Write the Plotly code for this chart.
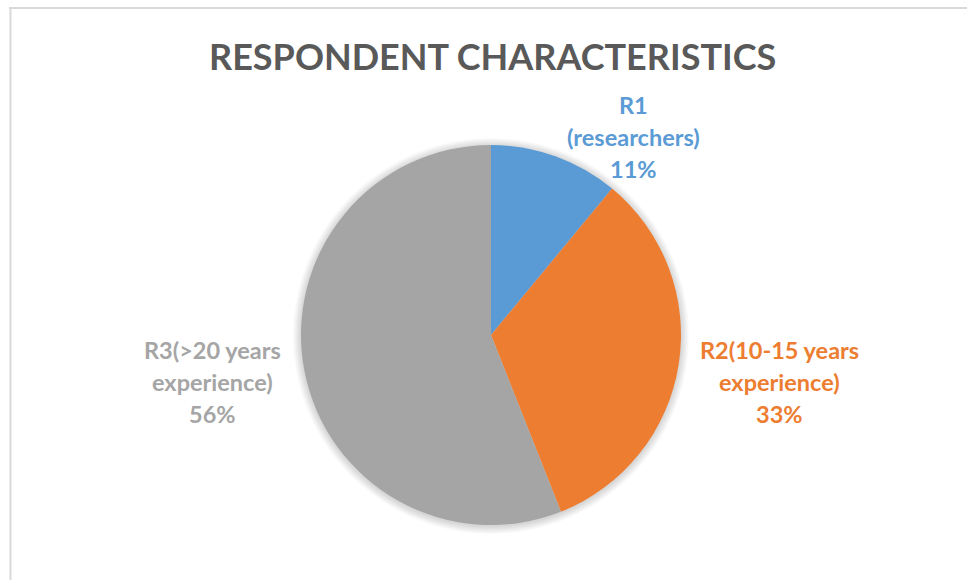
import plotly.graph_objects as go

# Respondent groups and their counts (%)
categories = ["R1", "R2", "R3"]
label_lines = [
    ["R1", "(researchers)"],
    ["R2(10-15 years", "experience)"],
    ["R3(>20 years", "experience)"],
]
values = [11, 33, 56]
colors = ["#5B9BD5", "#ED7D31", "#A5A5A5"]
title_text = "RESPONDENT CHARACTERISTICS"

W, H = 967, 580
FONT = "Lato"


def fx(x):
    return x / W


def fy(y):
    return 1 - y / H


cx, cy, R = 491, 335, 190

fig = go.Figure()

# soft shadow around the pie: stacked translucent discs
for k in range(8, 0, -1):
    r = R + k
    fig.add_trace(go.Pie(
        values=[1], labels=["shadow"], sort=False,
        marker=dict(colors=["rgba(0,0,0,0.018)"], line=dict(width=0)),
        textinfo="none", hoverinfo="skip", showlegend=False,
        domain=dict(x=[fx(cx - r), fx(cx + r)], y=[fy(cy + 1 + r), fy(cy + 1 - r)]),
    ))

fig.add_trace(go.Pie(
    labels=categories, values=values, sort=False, direction="clockwise", rotation=0,
    marker=dict(colors=colors, line=dict(width=0)),
    textinfo="none", hoverinfo="label+percent", showlegend=False,
    domain=dict(x=[fx(cx - R), fx(cx + R)], y=[fy(cy + R), fy(cy - R)]),
))

total = sum(values)
# label anchor centres (pixel space) for each slice's data label
label_pos = [(633, 105), (779, 350), (212, 350)]
line_gap = 32
for lines, v, col, (lx, ly) in zip(label_lines, values, colors, label_pos):
    all_lines = lines + [f"{round(100 * v / total)}%"]
    for i, t in enumerate(all_lines):
        fig.add_annotation(
            x=fx(lx), y=fy(ly + i * line_gap), xref="paper", yref="paper",
            text=t, showarrow=False, xanchor="center", yanchor="middle",
            font=dict(family=FONT, size=23.5, color=col, weight="bold"),
        )

fig.add_annotation(
    x=fx(492), y=fy(56), xref="paper", yref="paper", text=title_text,
    showarrow=False, xanchor="center", yanchor="middle",
    font=dict(family=FONT, size=36, color="#595959", weight="bold"),
)

# chart-area frame (top and left edges)
fig.add_shape(type="line", xref="paper", yref="paper", x0=fx(9), x1=1, y0=fy(8), y1=fy(8),
              line=dict(color="#D9D9D9", width=2))
fig.add_shape(type="line", xref="paper", yref="paper", x0=fx(10.5), x1=fx(10.5), y0=fy(8), y1=0,
              line=dict(color="#D9D9D9", width=2))

fig.update_layout(
    width=W, height=H, margin=dict(l=0, r=0, t=0, b=0),
    paper_bgcolor="white", plot_bgcolor="white", showlegend=False,
)

fig.write_html("out.html")
